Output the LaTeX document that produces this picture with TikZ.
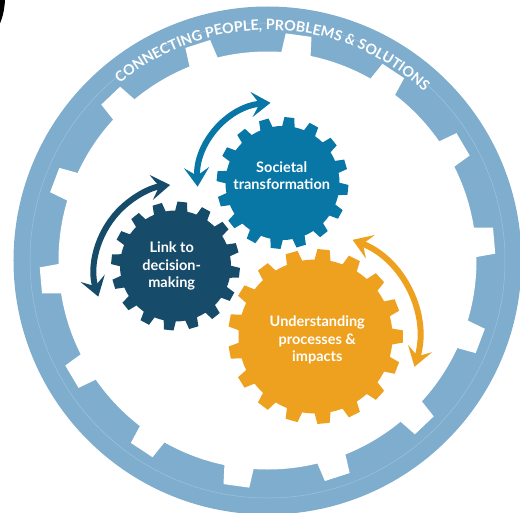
\documentclass[tikz,border=0pt]{standalone}
\usepackage{fontspec}
\setmainfont{Lato}
\usetikzlibrary{arrows.meta,decorations.text}
\definecolor{ringblue}{RGB}{127,173,206}
\definecolor{socblue}{RGB}{9,119,166}
\definecolor{linkblue}{RGB}{23,75,106}
\definecolor{understorange}{RGB}{238,161,31}
\newcommand{\cog}[6]{\fill[#5,shift={(#1)},rotate=#6] ({0.72*360/#2}:#3)
  \foreach \i in {1,...,#2} {-- ({(\i-0.28)*360/#2}:#3) -- ({(\i-0.19)*360/#2}:#4)
  -- ({(\i+0.19)*360/#2}:#4) -- ({(\i+0.28)*360/#2}:#3)
  arc[start angle={(\i+0.28)*360/#2},end angle={(\i+0.72)*360/#2},radius=#3]} -- cycle;}

\begin{document}
\begin{tikzpicture}[x=1pt,y=1pt,
    gearlabel/.style={text=white,font=\bfseries\fontsize{14.5}{17.6}\selectfont,align=center},
    cyclearrow/.style={line width=6pt,{Stealth[length=19pt,width=25pt,inset=8pt]}-{Stealth[length=19pt,width=25pt,inset=8pt]}}]
  \useasboundingbox (-267.5,-251.5) rectangle (252.5,260.5);
  \fill[black] (-267.5,260.5) -- (-262.5,260.5) .. controls (-263,252) and (-264.5,244) .. (-267.5,237) -- cycle;
  \fill[ringblue] (0,0) circle (254);
  \draw[white!25!ringblue,line width=0.5pt] (0,0) circle (237.5);
  \fill[white] (0,0) circle (209);
  \foreach \k in {0,...,13}
    \fill[white,rotate={5+\k*360/14}] (200,-15.5) -- (227.5,-13) -- (227.5,13) -- (200,15.5) -- cycle;
  {\bfseries\fontsize{14.3}{15}\selectfont
  \path[decorate,decoration={text along path,text align=center,text color=white,
      text={CONNECTING PEOPLE, PROBLEMS {\&} SOLUTIONS}}]
    (140:230.5) arc[start angle=140,end angle=37,radius=230.5];}

  \coordinate (socc) at (15,77.5);
  \coordinate (linkc) at (-92,-5.5);
  \coordinate (undc) at (48,-76);
  \cog{socc}{16}{57}{66}{socblue}{-6}
  \cog{linkc}{16}{55.5}{64.5}{linkblue}{-6}
  \cog{undc}{17}{77}{87.5}{understorange}{0}
  \node[gearlabel] (soc) at (14.2,85) {Societal\\transformation};
  \node[gearlabel] (link) at (-95.8,-5.5) {Link to\\decision-\\making};
  \node[gearlabel] (und) at (49.8,-79.5) {Understanding\\processes \&\\impacts};

  \draw[cyclearrow,socblue] ([shift={(183:80)}]10,78) arc[start angle=183,end angle=95,radius=80];
  \draw[cyclearrow,linkblue] ([shift={(197:87)}]-86,-10.7) arc[start angle=197,end angle=97.5,radius=87];
  \draw[cyclearrow,understorange] ([shift={(69:103.5)}]48,-76) arc[start angle=69,end angle=-17,radius=103.5];
\end{tikzpicture}
\end{document}
